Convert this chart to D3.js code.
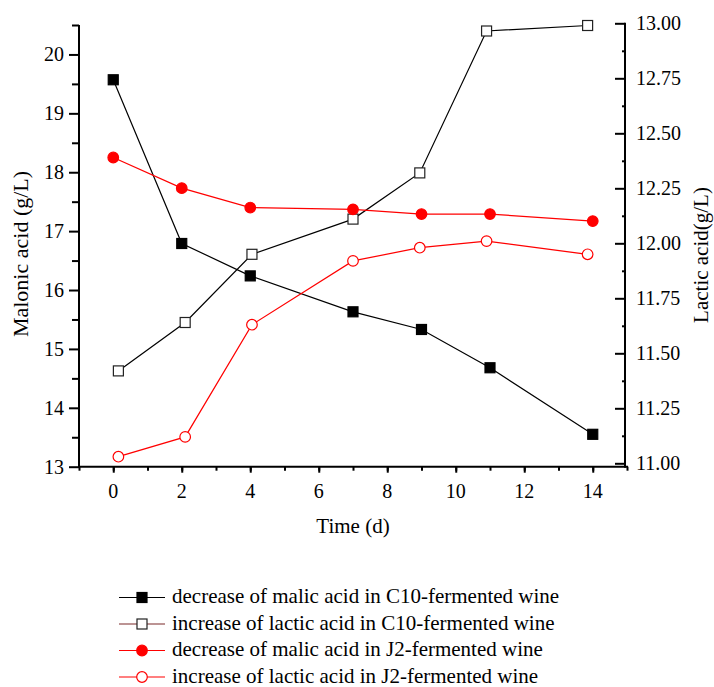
<!DOCTYPE html>
<html>
<head>
<meta charset="utf-8">
<script src="https://cdn.jsdelivr.net/npm/d3@7"></script>
<style>
  body { margin: 0; background: #fff; }
  text { font-family: "Liberation Serif", "Times New Roman", serif; }
</style>
</head>
<body>
<div id="vis"></div>
<script>
// sampling days (malic acid series sit on whole days, lactic ones slightly offset)
var daysMalic = [0, 2, 4, 7, 9, 11, 14];
var daysLactic = [0.15, 2.1, 4.05, 7, 8.95, 10.9, 13.85];

// left axis values (g/L)
var malicC10 = [19.57, 16.79, 16.24, 15.63, 15.33, 14.68, 13.55];
var malicJ2 = [18.25, 17.73, 17.4, 17.37, 17.29, 17.29, 17.17];

// right axis values (g/L)
var lacticC10 = [11.42, 11.64, 11.95, 12.11, 12.32, 12.965, 12.99];
var lacticJ2 = [11.03, 11.12, 11.63, 11.92, 11.98, 12.01, 11.95];

// tick values
var xTicks = [0, 2, 4, 6, 8, 10, 12, 14];
var yLeftTicks = [13, 14, 15, 16, 17, 18, 19, 20];
var yRightTicks = [11, 11.25, 11.5, 11.75, 12, 12.25, 12.5, 12.75, 13];

var legendLabels = [
  "decrease of malic acid in C10-fermented wine",
  "increase of lactic acid in C10-fermented wine",
  "decrease of malic acid in J2-fermented wine",
  "increase of lactic acid in J2-fermented wine"
];

var width = 714;
var height = 687;

var svg = d3.select("#vis").append("svg")
  .attr("width", width)
  .attr("height", height);

// scales
var x = d3.scaleLinear().domain([-1, 15]).range([79, 627]);
var yL = d3.scaleLinear().domain([13, 20.5]).range([466.7, 25]);
var yR = d3.scaleLinear().domain([11, 13]).range([463.3, 23.3]);

var axisY = 466.7;
var rightX = 625;

function noDomain(g) {
  g.select(".domain").remove();
  g.selectAll(".tick text").remove();
}

// bottom axis ticks (minor every 1, major every 2)
svg.append("g")
  .attr("transform", "translate(0," + axisY + ")")
  .call(d3.axisBottom(x).tickValues(d3.range(-1, 16, 1)).tickSize(4))
  .call(noDomain);
svg.append("g")
  .attr("transform", "translate(0," + axisY + ")")
  .call(d3.axisBottom(x).tickValues(xTicks).tickSize(6))
  .call(noDomain);

// left axis ticks
svg.append("g")
  .attr("transform", "translate(79,0)")
  .call(d3.axisLeft(yL).tickValues(d3.range(13.5, 20.6, 1)).tickSize(7))
  .call(noDomain);
svg.append("g")
  .attr("transform", "translate(79,0)")
  .call(d3.axisLeft(yL).tickValues(yLeftTicks).tickSize(10))
  .call(noDomain);

// right axis ticks, pointing inward
svg.append("g")
  .attr("transform", "translate(" + rightX + ",0)")
  .call(d3.axisRight(yR).tickValues(d3.range(11.125, 13, 0.25)).tickSize(-3))
  .call(noDomain);
svg.append("g")
  .attr("transform", "translate(" + rightX + ",0)")
  .call(d3.axisRight(yR).tickValues(yRightTicks).tickSize(-10))
  .call(noDomain);

svg.selectAll(".tick line").attr("stroke", "#000").attr("stroke-width", 2);

// tick labels
var labels = svg.append("g").style("font-size", "20px").attr("fill", "#000");
labels.selectAll(".xl").data(xTicks).enter().append("text")
  .attr("x", function (d) { return x(d); })
  .attr("y", 498)
  .attr("text-anchor", "middle")
  .text(d3.format("d"));
labels.selectAll(".yl").data(yLeftTicks).enter().append("text")
  .attr("x", 64)
  .attr("y", function (d) { return yL(d) + 7; })
  .attr("text-anchor", "end")
  .text(d3.format("d"));
labels.selectAll(".yr").data(yRightTicks).enter().append("text")
  .attr("x", 636)
  .attr("y", function (d) { return yR(d) + 7; })
  .attr("text-anchor", "start")
  .text(d3.format(".2f"));

// axis lines
svg.append("line").attr("x1", 79).attr("x2", 79).attr("y1", 25).attr("y2", axisY + 1)
  .attr("stroke", "#000").attr("stroke-width", 2);
svg.append("line").attr("x1", 78).attr("x2", 628).attr("y1", axisY).attr("y2", axisY)
  .attr("stroke", "#000").attr("stroke-width", 2);
svg.append("line").attr("x1", rightX).attr("x2", rightX).attr("y1", 22.7).attr("y2", axisY + 1)
  .attr("stroke", "#000").attr("stroke-width", 2);

// axis titles
svg.append("text")
  .attr("x", 353).attr("y", 533)
  .attr("text-anchor", "middle")
  .style("font-size", "21px")
  .text("Time (d)");
svg.append("text")
  .attr("transform", "translate(28,254) rotate(-90)")
  .attr("text-anchor", "middle")
  .style("font-size", "22px")
  .text("Malonic acid (g/L)");
svg.append("text")
  .attr("transform", "translate(708,255) rotate(-90)")
  .attr("text-anchor", "middle")
  .style("font-size", "21px")
  .text("Lactic acid(g/L)");

// series definitions
var series = [
  { xs: daysMalic, ys: malicC10, scale: yL, line: "#000", shape: "square", fill: "#000", stroke: "#000", legendLine: "#000" },
  { xs: daysLactic, ys: lacticC10, scale: yR, line: "#000", shape: "square", fill: "#fff", stroke: "#222", legendLine: "#7a2a2a" },
  { xs: daysMalic, ys: malicJ2, scale: yL, line: "#ff0000", shape: "circle", fill: "#ff0000", stroke: "#ff0000", legendLine: "#ff0000" },
  { xs: daysLactic, ys: lacticJ2, scale: yR, line: "#ff0000", shape: "circle", fill: "#fff", stroke: "#ff0000", legendLine: "#ff0000" }
];

function drawMarker(g, s, cx, cy) {
  if (s.shape === "square") {
    g.append("rect")
      .attr("x", cx - 5).attr("y", cy - 5)
      .attr("width", 10).attr("height", 10)
      .attr("fill", s.fill)
      .attr("stroke", s.stroke).attr("stroke-width", 1.2);
  } else {
    g.append("circle")
      .attr("cx", cx).attr("cy", cy).attr("r", 5.3)
      .attr("fill", s.fill)
      .attr("stroke", s.stroke).attr("stroke-width", 1.2);
  }
}

var line = d3.line();

// lines first, then markers on top
series.forEach(function (s) {
  var pts = s.xs.map(function (d, i) { return [x(d), s.scale(s.ys[i])]; });
  svg.append("path")
    .attr("d", line(pts))
    .attr("fill", "none")
    .attr("stroke", s.line)
    .attr("stroke-width", 1.2);
});
series.forEach(function (s) {
  var g = svg.append("g");
  s.xs.forEach(function (d, i) {
    drawMarker(g, s, x(d), s.scale(s.ys[i]));
  });
});

// legend
var legend = svg.append("g");
series.forEach(function (s, i) {
  var cy = 597.5 + i * 26.5;
  legend.append("line")
    .attr("x1", 119).attr("x2", 165).attr("y1", cy).attr("y2", cy)
    .attr("stroke", s.legendLine).attr("stroke-width", 1.2);
  drawMarker(legend, s, 142, cy);
  legend.append("text")
    .attr("x", 172).attr("y", cy + 5.5)
    .style("font-size", "21px")
    .text(legendLabels[i]);
});
</script>
</body>
</html>
